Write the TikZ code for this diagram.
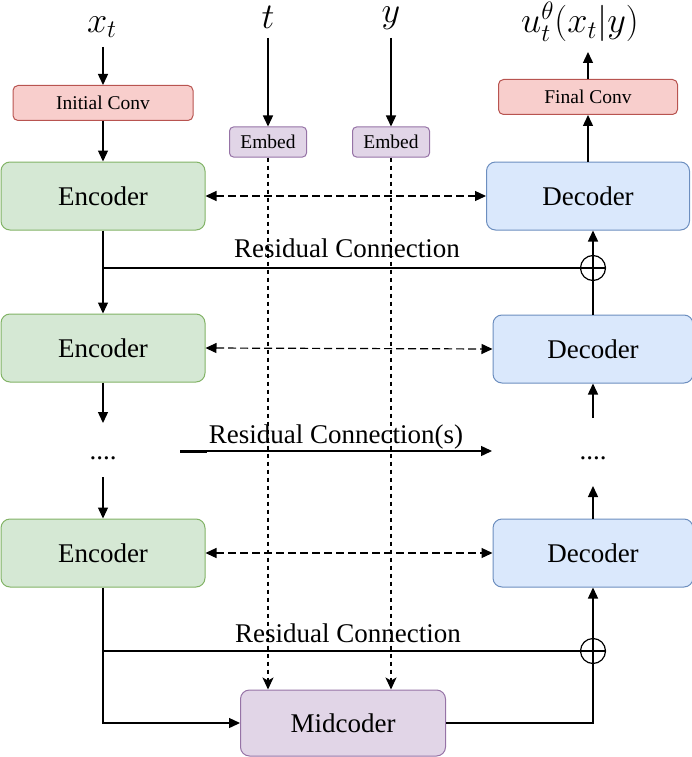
\documentclass[tikz,border=0pt]{standalone}
\usepackage{graphicx}
\usepackage{fontspec}
\setmainfont{Liberation Serif}
\usetikzlibrary{arrows.meta}

\definecolor{encfill}{HTML}{D5E8D4}
\definecolor{encdraw}{HTML}{82B366}
\definecolor{decfill}{HTML}{DAE8FC}
\definecolor{decdraw}{HTML}{6C8EBF}
\definecolor{convfill}{HTML}{F8CECC}
\definecolor{convdraw}{HTML}{B85450}
\definecolor{midfill}{HTML}{E1D5E7}
\definecolor{middraw}{HTML}{9673A6}

\newcommand{\bigmath}[1]{\scalebox{1.75}{\huge $#1$}}

\begin{document}
\begin{tikzpicture}[x=1pt,y=-1pt,
  bigtext/.style={font=\fontsize{27}{31}\selectfont},
  smalltext/.style={font=\fontsize{19.5}{22}\selectfont},
  mathlabel/.style={inner sep=0pt},
  block/.style={draw, rounded corners=9pt, line width=1pt, inner sep=0pt,
    minimum width=204pt, minimum height=68pt, bigtext},
  encbox/.style={block, fill=encfill, draw=encdraw},
  decbox/.style={block, fill=decfill, draw=decdraw},
  midbox/.style={block, fill=midfill, draw=middraw, minimum width=205pt, minimum height=66pt},
  convbox/.style={draw, rounded corners=5pt, line width=1pt, inner sep=0pt,
    fill=convfill, draw=convdraw, minimum height=35pt, smalltext},
  embbox/.style={draw, rounded corners=4pt, line width=1pt, inner sep=0pt,
    fill=midfill, draw=middraw, minimum width=77pt, minimum height=30pt, smalltext},
  tip/.tip={Triangle[length=11pt,width=10pt]},
  arr/.style={line width=1.4pt, -tip},
  plain/.style={line width=1.2pt},
  linkarr/.style={line width=1.2pt, dash pattern=on 8pt off 4pt, tip-tip},
  condarr/.style={line width=1.3pt, dash pattern=on 4pt off 4pt,
    -{Stealth[length=12pt,width=11pt,inset=3pt]}},
  sum/.style={circle, draw, line width=1.2pt, minimum size=25pt, inner sep=0pt},
]
\useasboundingbox (0,0) rectangle (692,757);

% inputs and output
\node[mathlabel] (xt) at (102,27) {\bigmath{x_t}};
\node[mathlabel] (tl) at (268,17) {\bigmath{t}};
\node[mathlabel] (yl) at (391,18) {\bigmath{y}};
\node[mathlabel] (ul) at (580,22) {\bigmath{u_t^\theta(x_t|y)}};

% convolutions and embeddings
\node[convbox, minimum width=180pt] (ic) at (103,103) {Initial Conv};
\node[convbox, minimum width=179pt] (fc) at (588,97) {Final Conv};
\node[embbox] (embt) at (268,142) {Embed};
\node[embbox] (emby) at (391,142) {Embed};

% encoder / decoder stacks
\node[encbox] (enc1) at (103,196) {Encoder};
\node[encbox] (enc2) at (103,348) {Encoder};
\node[encbox] (enc3) at (103,553) {Encoder};
\node[decbox, minimum width=203pt] (dec1) at (588,196) {Decoder};
\node[decbox, minimum width=200pt] (dec2) at (593,349) {Decoder};
\node[decbox, minimum width=200pt] (dec3) at (593,553) {Decoder};
\node[midbox] (mid) at (343,723) {Midcoder};

% skipped levels
\node[bigtext, anchor=base, inner sep=0pt] (ldots) at (103,459) {....};
\node[bigtext, anchor=base, inner sep=0pt] (rdots) at (593,459) {....};

% summation points
\node[sum] (p1) at (593,268) {};
\node[sum] (p2) at (593,651) {};
\draw[plain] (p1.north) -- (p1.south) (p1.west) -- (p1.east);
\draw[plain] (p2.north) -- (p2.south) (p2.west) -- (p2.east);

% free ends
\coordinate (xtin) at (103,47);
\coordinate (tin) at (268,38);
\coordinate (yin) at (391,38);
\coordinate (uout) at (588,52);
\coordinate (la) at (103,423);
\coordinate (lb) at (103,477);
\coordinate (ra) at (593,486);
\coordinate (rb) at (593,418);
\coordinate (rcs) at (180,451);
\coordinate (rcm) at (207,451);
\coordinate (rce) at (492,451);

% main data path
\draw[arr] (xtin) -- (ic.north);
\draw[arr] (ic.south) -- (enc1.north);
\draw[arr] (tin) -- (embt.north);
\draw[arr] (yin) -- (emby.north);
\draw[arr] (dec1.north) -- (fc.south);
\draw[arr] (fc.north) -- (uout);

\draw[arr] (enc1.south) -- (enc2.north);
\draw[arr] (enc2.south) -- (la);
\draw[arr] (lb) -- (enc3.north);
\draw[arr] (enc3.south) |- (mid.west);

\draw[plain] (mid.east) -| (p2.south);
\draw[arr] (p2.north) -- (dec3.south);
\draw[arr] (dec3.north) -- (ra);
\draw[arr] (rb) -- (dec2.south);
\draw[plain] (dec2.north) -- (p1.south);
\draw[arr] (p1.north) -- (p1.north |- dec1.south);

% residual connections
\draw[plain] (enc1.south |- p1) -- (p1.west);
\draw[plain] (enc3.south |- p2) -- (p2.west);
\draw[line width=3pt] (rcs) -- (rcm);
\draw[arr] (rcm) -- (rce);
\node[bigtext, anchor=base] at (347,257) {Residual Connection};
\node[bigtext, anchor=base] at (336,443) {Residual Connection(s)};
\node[bigtext, anchor=base] at (348,642) {Residual Connection};

% encoder-decoder links
\draw[linkarr] (enc1.east) -- (dec1.west);
\draw[linkarr] (enc2.east) -- (dec2.west);
\draw[linkarr] (enc3.east) -- (dec3.west);

% conditioning paths
\draw[condarr] (embt.south) -- (embt.south |- mid.north);
\draw[condarr] (emby.south) -- (emby.south |- mid.north);
\end{tikzpicture}
\end{document}
